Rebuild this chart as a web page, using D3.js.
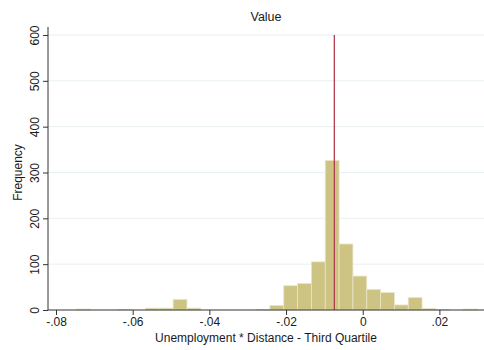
<!DOCTYPE html>
<html>
<head>
<meta charset="utf-8">
<script src="https://cdn.jsdelivr.net/npm/d3@7"></script>
<style>
  html, body { margin: 0; padding: 0; background: #fff; }
  text { font-family: "Liberation Sans", Arial, Helvetica, sans-serif; fill: #1a1a1a; }
</style>
</head>
<body>
<svg id="chart" width="484" height="350"></svg>
<script>
// ---- data ----
const binStart = -0.0747;
const binWidth = 0.003607;
const counts = [2, 0, 0, 1, 0, 4, 4, 23, 4, 0, 0, 0, 0, 1, 10, 53, 58, 105, 326, 144, 74, 45, 38, 11, 27, 3, 1, 0, 2];
const xTicks = [-0.08, -0.06, -0.04, -0.02, 0, 0.02];
const xTickLabels = ["-.08", "-.06", "-.04", "-.02", "0", ".02"];
const yTicks = [0, 100, 200, 300, 400, 500, 600];
const refValue = -0.0074;
const chartTitle = "Value";
const xTitle = "Unemployment * Distance - Third Quartile";
const yTitle = "Frequency";

(function () {
// ---- layout ----
const svg = d3.select("#chart");
const pLeft = 48, pRight = 484, pBottom = 310, pTop = 35;
const x = d3.scaleLinear().domain([-0.08, 0.02]).range([56, 439.4]);
const y = d3.scaleLinear().domain([0, 600]).range([pBottom, pTop]);

const bins = counts.map((c, i) => ({ x0: binStart + i * binWidth, x1: binStart + (i + 1) * binWidth, n: c }));

// gridlines
svg.append("g").selectAll("line").data(yTicks.filter(d => d > 0)).join("line")
  .attr("x1", pLeft).attr("x2", pRight)
  .attr("y1", d => y(d)).attr("y2", d => y(d))
  .attr("stroke", "#e8eff0").attr("stroke-width", 1);

// bars
svg.append("g").selectAll("rect").data(bins.filter(b => b.n > 0)).join("rect")
  .attr("x", d => x(d.x0))
  .attr("width", d => x(d.x1) - x(d.x0))
  .attr("y", d => y(d.n))
  .attr("height", d => y(0) - y(d.n))
  .attr("fill", "#cdc383")
  .attr("stroke", "#e9e5c6")
  .attr("stroke-width", 0.8);

// reference line
svg.append("line")
  .attr("x1", x(refValue)).attr("x2", x(refValue))
  .attr("y1", y(600)).attr("y2", y(0))
  .attr("stroke", "#b0404f").attr("stroke-width", 1.3);

// y axis
const yAxis = svg.append("g").attr("transform", `translate(${pLeft},0)`)
  .call(d3.axisLeft(y).tickValues(yTicks).tickSize(5).tickFormat(d3.format("d")));
yAxis.select(".domain").remove();
yAxis.selectAll(".tick line").attr("stroke", "#333");
yAxis.selectAll(".tick text")
  .attr("font-size", 12)
  .attr("transform", "rotate(-90)")
  .attr("x", 0).attr("y", -9)
  .attr("dy", 0)
  .attr("text-anchor", "middle");
svg.append("line").attr("x1", pLeft).attr("x2", pLeft).attr("y1", 27).attr("y2", pBottom)
  .attr("stroke", "#333").attr("stroke-width", 1);

// x axis
const xAxis = svg.append("g").attr("transform", `translate(0,${pBottom})`)
  .call(d3.axisBottom(x).tickValues(xTicks).tickSize(5).tickFormat((d, i) => xTickLabels[i]));
xAxis.select(".domain").remove();
xAxis.selectAll(".tick line").attr("stroke", "#333");
xAxis.selectAll(".tick text").attr("font-size", 12).attr("y", 7).attr("dy", "0.71em");
svg.append("line").attr("x1", pLeft).attr("x2", pRight).attr("y1", pBottom).attr("y2", pBottom)
  .attr("stroke", "#333").attr("stroke-width", 1.2);

// titles
svg.append("text").attr("x", (pLeft + pRight) / 2).attr("y", 21)
  .attr("text-anchor", "middle").attr("font-size", 12.5).text(chartTitle);
svg.append("text").attr("x", (pLeft + pRight) / 2).attr("y", 342)
  .attr("text-anchor", "middle").attr("font-size", 12).text(xTitle);
svg.append("text").attr("transform", `translate(22,${(pTop + pBottom) / 2}) rotate(-90)`)
  .attr("text-anchor", "middle").attr("font-size", 12).text(yTitle);
})();
</script>
</body>
</html>
